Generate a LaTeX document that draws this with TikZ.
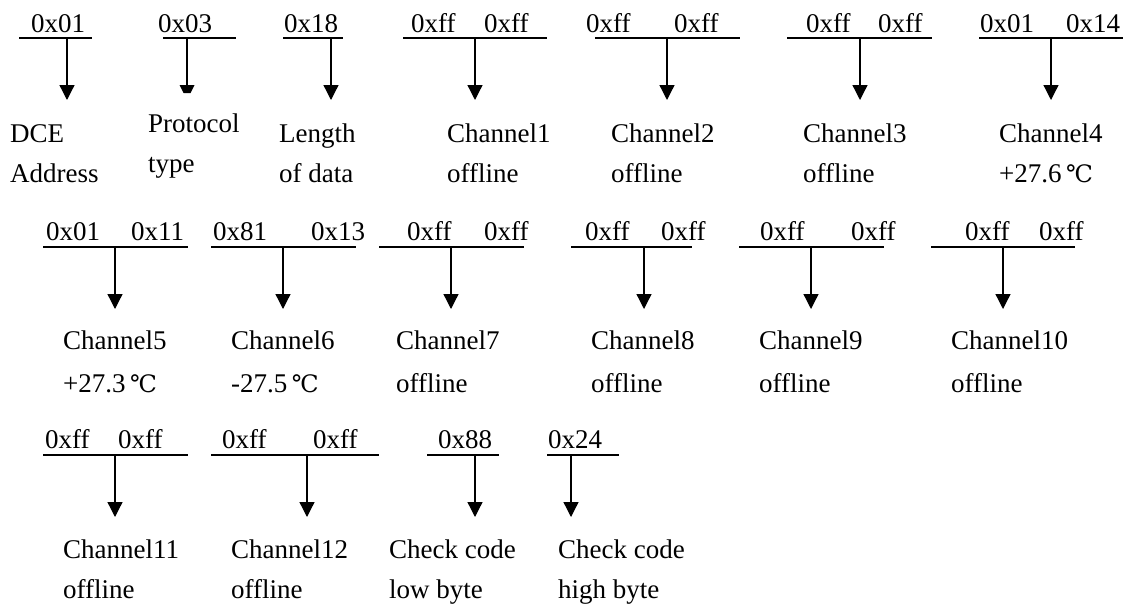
\documentclass[tikz,border=0pt]{standalone}
\usepackage{fontspec}
\setmainfont{Liberation Serif}
\newfontfamily\degfont{DejaVu Serif}
\usetikzlibrary{arrows.meta}
\newcommand{\degC}{\,{\degfont\fontsize{24pt}{32pt}\selectfont ℃}}
\newcommand{\fbar}[5]{%
  \coordinate (#1L) at (#2,#5);
  \coordinate (#1R) at (#3,#5);
  \coordinate (#1s) at (#4,#5);
  \coordinate (#1t) at ({#4},{#5+62});
  \draw[barline] (#1L) -- (#1R);
  \draw[conn] (#1s) -- (#1t);}
\tikzset{
  barline/.style={line width=2.6pt},
  conn/.style={line width=1.3pt,-{Triangle[width=15pt,length=15pt]}},
  txt/.style={anchor=base west,inner sep=0pt,font=\fontsize{27pt}{32pt}\selectfont},
}
\begin{document}
\begin{tikzpicture}[x=1pt,y=-1pt]
\useasboundingbox[fill=white] (0,0) rectangle (1133,605);
% ---------- row 1 ----------
\fbar{a}{19}{92}{67}{38}
\node[txt] (ha) at (31,32) {0x01};
\node[txt] (la1) at (10,142) {DCE};
\node[txt] (la2) at (10,182) {Address};
% protocol (clipped head)
\coordinate (bL) at (163,38); \coordinate (bR) at (236,38);
\coordinate (bs) at (187,38); \coordinate (bt) at (187,85);
\draw[barline] (bL) -- (bR);
\draw[line width=1.3pt] (bs) -- (bt);
\fill ([xshift=-7.5pt]bt) -- ([xshift=7.5pt]bt) -- ([xshift=3.5pt,yshift=-8pt]bt) -- ([xshift=-3.5pt,yshift=-8pt]bt) -- cycle;
\node[txt] (hb) at (158,32) {0x03};
\node[txt] (lb1) at (148,132) {Protocol};
\node[txt] (lb2) at (148,172) {type};
\fbar{c}{283}{343}{331}{38}
\node[txt] (hc) at (284,32) {0x18};
\node[txt] (lc1) at (279,142) {Length};
\node[txt] (lc2) at (279,182) {of data};
\fbar{d}{403}{547}{475}{38}
\node[txt] (hd1) at (411,32) {0xff};
\node[txt] (hd2) at (484,32) {0xff};
\node[txt] (ld1) at (447,142) {Channel1};
\node[txt] (ld2) at (447,182) {offline};
\fbar{e}{595}{740}{667}{38}
\node[txt] (he1) at (586,32) {0xff};
\node[txt] (he2) at (674,32) {0xff};
\node[txt] (le1) at (611,142) {Channel2};
\node[txt] (le2) at (611,182) {offline};
\fbar{f}{787}{932}{860}{38}
\node[txt] (hf1) at (806,32) {0xff};
\node[txt] (hf2) at (878,32) {0xff};
\node[txt] (lf1) at (803,142) {Channel3};
\node[txt] (lf2) at (803,182) {offline};
\fbar{g}{979}{1123}{1051}{38}
\node[txt] (hg1) at (980,32) {0x01};
\node[txt] (hg2) at (1066,32) {0x14};
\node[txt] (lg1) at (999,142) {Channel4};
\node[txt] (lg2) at (999,182) {+27.6\degC};
% ---------- row 2 ----------
\fbar{h}{43}{188}{115}{247}
\node[txt] (hh1) at (46,240) {0x01};
\node[txt] (hh2) at (131,240) {0x11};
\node[txt] (lh1) at (63,349) {Channel5};
\node[txt] (lh2) at (63,392) {+27.3\degC};
\fbar{i}{211}{356}{283}{247}
\node[txt] (hi1) at (213,240) {0x81};
\node[txt] (hi2) at (311,240) {0x13};
\node[txt] (li1) at (231,349) {Channel6};
\node[txt] (li2) at (231,392) {-27.5\degC};
\fbar{j}{379}{524}{451}{247}
\node[txt] (hj1) at (407,240) {0xff};
\node[txt] (hj2) at (484,240) {0xff};
\node[txt] (lj1) at (396,349) {Channel7};
\node[txt] (lj2) at (396,392) {offline};
\fbar{k}{571}{692}{644}{247}
\node[txt] (hk1) at (585,240) {0xff};
\node[txt] (hk2) at (661,240) {0xff};
\node[txt] (lk1) at (591,349) {Channel8};
\node[txt] (lk2) at (591,392) {offline};
\fbar{m}{739}{884}{811}{247}
\node[txt] (hm1) at (760,240) {0xff};
\node[txt] (hm2) at (851,240) {0xff};
\node[txt] (lm1) at (759,349) {Channel9};
\node[txt] (lm2) at (759,392) {offline};
\fbar{n}{931}{1075}{1003}{247}
\node[txt] (hn1) at (965,240) {0xff};
\node[txt] (hn2) at (1039,240) {0xff};
\node[txt] (ln1) at (951,349) {Channel10};
\node[txt] (ln2) at (951,392) {offline};
% ---------- row 3 ----------
\fbar{o}{43}{188}{115}{455}
\node[txt] (ho1) at (45,448) {0xff};
\node[txt] (ho2) at (118,448) {0xff};
\node[txt] (lo1) at (63,558) {Channel11};
\node[txt] (lo2) at (63,598) {offline};
\fbar{p}{211}{379}{307}{455}
\node[txt] (hp1) at (222,448) {0xff};
\node[txt] (hp2) at (313,448) {0xff};
\node[txt] (lp1) at (231,558) {Channel12};
\node[txt] (lp2) at (231,598) {offline};
\fbar{q}{427}{499}{475}{455}
\node[txt] (hq) at (438,448) {0x88};
\node[txt] (lq1) at (389,558) {Check code};
\node[txt] (lq2) at (389,598) {low byte};
\fbar{r}{547}{619}{571}{455}
\node[txt] (hr) at (548,448) {0x24};
\node[txt] (lr1) at (558,558) {Check code};
\node[txt] (lr2) at (558,598) {high byte};
\end{tikzpicture}
\end{document}
